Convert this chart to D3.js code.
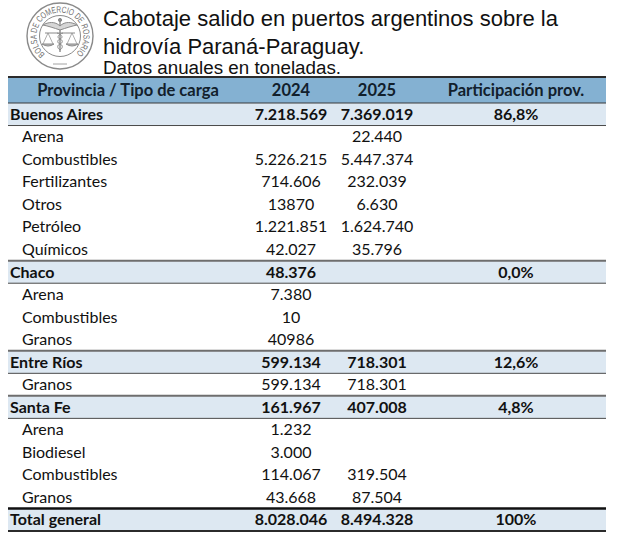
<!DOCTYPE html>
<html>
<head>
<meta charset="utf-8">
<script src="https://cdn.jsdelivr.net/npm/d3@7"></script>
<style>
  body { margin: 0; background: #fff; }
  svg { display: block; }
</style>
</head>
<body>
<div id="chart"></div>
<script>
// Rows of the table, top to bottom
const rowLabels = ["Buenos Aires", "Arena", "Combustibles", "Fertilizantes", "Otros", "Petróleo", "Químicos",
  "Chaco", "Arena", "Combustibles", "Granos",
  "Entre Ríos", "Granos",
  "Santa Fe", "Arena", "Biodiesel", "Combustibles", "Granos",
  "Total general"];
// 0 = provincia, 1 = tipo de carga, 2 = total
const rowLevels = [0, 1, 1, 1, 1, 1, 1, 0, 1, 1, 1, 0, 1, 0, 1, 1, 1, 1, 2];
const values2024 = [7218569, null, 5226215, 714606, 13870, 1221851, 42027,
  48376, 7380, 10, 40986,
  599134, 599134,
  161967, 1232, 3000, 114067, 43668,
  8028046];
const values2025 = [7369019, 22440, 5447374, 232039, 6630, 1624740, 35796,
  null, null, null, null,
  718301, 718301,
  407008, null, null, 319504, 87504,
  8494328];
const shares = [86.8, null, null, null, null, null, null,
  0.0, null, null, null,
  12.6, null,
  4.8, null, null, null, null,
  100];
// values that the source sheet shows without thousands separator
const plainNumbers = new Set([13870, 40986]);
const headers = ["Provincia / Tipo de carga", "2024", "2025", "Participación prov."];

const width = 617;
const height = 546;
const tableLeft = 8;
const tableRight = 606;
const headerTop = 77;
const headerBottom = 103;
const tableBottom = 531;

const locale = d3.formatLocale({decimal: ",", thousands: ".", grouping: [3], currency: ["$", ""]});
const fmtTons = v => v == null ? "" : (plainNumbers.has(v) ? String(v) : locale.format(",")(v));
const fmtShare = (v, level) => v == null ? "" : locale.format(level === 2 ? ".0f" : ".1f")(v) + "%";

const svg = d3.select('#chart')
  .append('svg')
  .attr('width', width)
  .attr('height', height)
  .style('font-family', 'Lato, "Open Sans", sans-serif');

//Logo
const logo = svg.append('g')
  .attr('transform', 'translate(60, 36)')
  .attr('fill', 'none')
  .attr('stroke', '#8a8a8a');

logo.append('circle').attr('r', 33).attr('stroke-width', 1.4);
logo.append('circle').attr('r', 20.5).attr('stroke-width', 1);

// text arc from lower left, over the top, to lower right
const r = 23.5;
const a0 = -2.45, a1 = 2.45;
logo.append('path')
  .attr('id', 'logoArc')
  .attr('d', `M${r * Math.sin(a0)},${-r * Math.cos(a0)} A${r},${r} 0 1 1 ${r * Math.sin(a1)},${-r * Math.cos(a1)}`)
  .attr('stroke', 'none');
logo.append('text')
  .attr('fill', '#6f6f6f')
  .attr('stroke', 'none')
  .style('font-family', '"Liberation Sans", sans-serif')
  .style('font-size', '9px')
  .append('textPath')
  .attr('href', '#logoArc')
  .attr('textLength', r * (a1 - a0) - 2)
  .attr('lengthAdjust', 'spacingAndGlyphs')
  .text('BOLSA DE COMERCIO DE ROSARIO');

logo.append('line').attr('x1', -7).attr('x2', 7).attr('y1', 28).attr('y2', 28).attr('stroke-width', 0.8);
// caduceus
logo.append('line').attr('x1', 0).attr('x2', 0).attr('y1', -15).attr('y2', 16).attr('stroke-width', 1.4);
logo.append('circle').attr('cy', -16).attr('r', 1.6).attr('fill', '#8a8a8a');
logo.append('path').attr('d', 'M0,-10 C-5,-15 -12,-14 -17,-11 C-12,-10 -6,-8 0,-6').attr('stroke-width', 1).attr('fill', '#d6d6d6');
logo.append('path').attr('d', 'M0,-10 C5,-15 12,-14 17,-11 C12,-10 6,-8 0,-6').attr('stroke-width', 1).attr('fill', '#d6d6d6');
logo.append('path').attr('d', 'M-3,-3 C3,-1 3,2 0,3 C-3,4 -3,7 0,8 C3,9 3,12 0,14').attr('stroke-width', 1);
logo.append('path').attr('d', 'M3,-3 C-3,-1 -3,2 0,3 C3,4 3,7 0,8 C-3,9 -3,12 0,14').attr('stroke-width', 1);
// scales
logo.append('line').attr('x1', -15).attr('x2', 15).attr('y1', -3).attr('y2', -3).attr('stroke-width', 1);
[-12, 12].forEach(cx => {
  logo.append('path').attr('d', `M${cx},-3 L${cx - 5},8 M${cx},-3 L${cx + 5},8`).attr('stroke-width', 0.7);
  logo.append('path').attr('d', `M${cx - 6},8 Q${cx},12 ${cx + 6},8 Z`).attr('stroke-width', 1).attr('fill', '#bdbdbd');
});

//Titles
const titles = svg.append('g')
  .style('font-family', '"Liberation Sans", Arial, sans-serif')
  .attr('fill', '#111');
titles.append('text').attr('x', 103).attr('y', 26).style('font-size', '22px')
  .text('Cabotaje salido en puertos argentinos sobre la');
titles.append('text').attr('x', 103).attr('y', 54).style('font-size', '22px')
  .text('hidrovía Paraná-Paraguay.');
titles.append('text').attr('x', 103).attr('y', 74).style('font-size', '18.8px')
  .text('Datos anuales en toneladas.');

//Scales
const y = d3.scaleBand()
  .domain(d3.range(rowLabels.length))
  .range([headerBottom, tableBottom]);

const colX = d3.scaleOrdinal()
  .domain(headers)
  .range([128, 291, 377, 516]);

//Header
svg.append('rect')
  .attr('x', tableLeft).attr('y', headerTop)
  .attr('width', tableRight - tableLeft).attr('height', headerBottom - headerTop)
  .attr('fill', '#84b1d2');

svg.append('g')
  .selectAll('text')
  .data(headers)
  .enter().append('text')
  .attr('x', d => colX(d))
  .attr('y', (headerTop + headerBottom) / 2 + 6)
  .attr('text-anchor', 'middle')
  .style('font-size', '16.5px')
  .style('font-weight', 'bold')
  .attr('fill', '#12202c')
  .text(d => d);

//Row fills
svg.append('g')
  .selectAll('rect')
  .data(d3.range(rowLabels.length).filter(i => rowLevels[i] !== 1))
  .enter().append('rect')
  .attr('x', tableLeft)
  .attr('y', i => y(i))
  .attr('width', tableRight - tableLeft)
  .attr('height', y.bandwidth())
  .attr('fill', '#dde8f2');

//Row texts
const rows = svg.append('g')
  .selectAll('g')
  .data(d3.range(rowLabels.length))
  .enter().append('g')
  .attr('transform', i => `translate(0, ${y(i) + y.bandwidth() / 2 + 5.6})`)
  .style('font-size', '16px')
  .style('font-weight', i => rowLevels[i] === 1 ? 'normal' : 'bold')
  .attr('fill', '#111');

rows.append('text')
  .attr('x', i => rowLevels[i] === 1 ? 22 : 10)
  .text(i => rowLabels[i]);

rows.append('text')
  .attr('x', colX('2024'))
  .attr('text-anchor', 'middle')
  .text(i => fmtTons(values2024[i]));

rows.append('text')
  .attr('x', colX('2025'))
  .attr('text-anchor', 'middle')
  .text(i => fmtTons(values2025[i]));

rows.append('text')
  .attr('x', colX('Participación prov.'))
  .attr('text-anchor', 'middle')
  .text(i => fmtShare(shares[i], rowLevels[i]));

//Borders
const hline = (yy, color, w) => svg.append('line')
  .attr('x1', tableLeft).attr('x2', tableRight)
  .attr('y1', yy).attr('y2', yy)
  .attr('stroke', color).attr('stroke-width', w);

hline(headerTop, '#2b2b2b', 2);
d3.range(rowLabels.length).forEach(i => {
  if (rowLevels[i] === 0) {
    hline(y(i), i === 0 ? '#3a3a3a' : '#6e6e6e', i === 0 ? 1.2 : 2);
    hline(y(i) + y.bandwidth(), '#4a4a4a', 1);
  }
  if (rowLevels[i] === 2) {
    hline(y(i), '#111', 2.4);
    hline(y(i) + y.bandwidth(), '#2b2b2b', 2);
  }
});
</script>
</body>
</html>
